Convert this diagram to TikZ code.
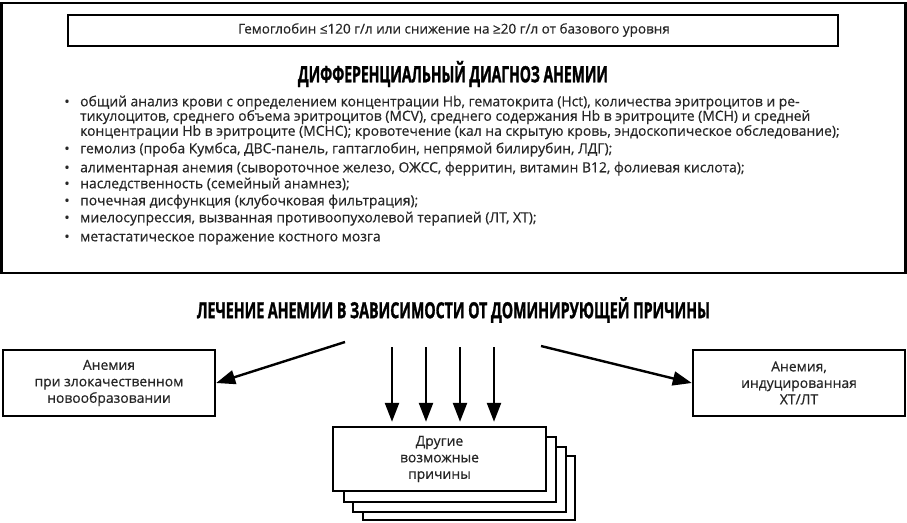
\documentclass[tikz,border=0pt]{standalone}
\usepackage{fontspec}
\setmainfont{Open Sans}[FakeBold=0.5]
\newfontfamily\titlefont{Open Sans}[FakeStretch=0.62, BoldFeatures={FakeBold=1.2}]
\newfontfamily\titlefontb{Open Sans}[FakeStretch=0.64, BoldFeatures={FakeBold=1.2}]
\usetikzlibrary{arrows.meta}
\tikzset{
  frame/.style={draw=black, line width=2.6pt},
  box/.style={draw=black, line width=2.4pt, fill=white},
  body/.style={anchor=west, inner sep=0pt, text=black!85, font=\fontsize{13.9}{14.5}\selectfont, text height=9.5pt, text depth=3pt},
  bullet/.style={anchor=center, inner sep=0pt, text=black!85, font=\fontsize{14}{14}\selectfont},
  boxtext/.style={align=center, inner sep=0pt, text=black!85, font=\fontsize{13.9}{16.5}\selectfont},
  arr/.style={line width=2.4pt, -{Triangle[length=19pt,width=14pt]}},
}
\begin{document}
\begin{tikzpicture}[x=1pt,y=-1pt]
\useasboundingbox (0,0) rectangle (907,522);
% outer frame
\draw[frame] (1.5,3) rectangle (905.5,273);
% top box
\draw[frame] (68,15) rectangle (838,46);
\node[inner sep=0pt, text=black!85, font=\fontsize{13.5}{14}\selectfont] (hb) at (454,30) {Гемоглобин ≤120 г/л или снижение на ≥20 г/л от базового уровня};
% title 1
\node[inner sep=0pt] (t1) at (453,74) {\resizebox{310pt}{!}{\titlefont\bfseries ДИФФЕРЕНЦИАЛЬНЫЙ ДИАГНОЗ АНЕМИИ}};
% bullets
\foreach \y/\n in {103/b1,150/b2,169/b3,185/b4,202/b5,219/b6,238/b7}
  \node[bullet] (\n) at (67,\y) {•};
\node[body] (l1) at (80,103) {общий анализ крови с определением концентрации Hb, гематокрита (Hct), количества эритроцитов и ре-};
\node[body] (l2) at (80,117.5) {тикулоцитов, среднего объема эритроцитов (MCV), среднего содержания Hb в эритроците (MCH) и средней};
\node[body] (l3) at (80,132.5) {концентрации Hb в эритроците (MCHC); кровотечение (кал на скрытую кровь, эндоскопическое обследование);};
\node[body] (l4) at (80,150) {гемолиз (проба Кумбса, ДВС-панель, гаптаглобин, непрямой билирубин, ЛДГ);};
\node[body] (l5) at (80,169) {алиментарная анемия (сывороточное железо, ОЖСС, ферритин, витамин B12, фолиевая кислота);};
\node[body] (l6) at (80,185) {наследственность (семейный анамнез);};
\node[body] (l7) at (80,202) {почечная дисфункция (клубочковая фильтрация);};
\node[body] (l8) at (80,219) {миелосупрессия, вызванная противоопухолевой терапией (ЛТ, ХТ);};
\node[body] (l9) at (80,238) {метастатическое поражение костного мозга};
% title 2
\node[inner sep=0pt] (t2) at (453.5,310) {\resizebox{513pt}{!}{\titlefontb\bfseries ЛЕЧЕНИЕ АНЕМИИ В ЗАВИСИМОСТИ ОТ ДОМИНИРУЮЩЕЙ ПРИЧИНЫ}};
% side boxes
\node[box, minimum width=212pt, minimum height=66pt] (left) at (109,383) {};
\node[boxtext] at (left.center) {Анемия\\при злокачественном\\новообразовании};
\node[box, minimum width=212pt, minimum height=66pt] (right) at (799,383) {};
\node[boxtext] at (right.center) {Анемия,\\индуцированная\\ХТ/ЛТ};
% stacked boxes
\draw[box] (363,456) rectangle (575,520);
\draw[box] (353,447) rectangle (566,512);
\draw[box] (344,437) rectangle (556,502);
\node[box, minimum width=213pt, minimum height=64pt] (other) at (439.5,459) {};
\node[boxtext] at (other.center) {Другие\\возможные\\причины};
% arrows
\coordinate (sL) at (345,342);
\coordinate (sR) at (541,346);
\draw[arr] (sL) -- (left.east);
\draw[arr] (sR) -- (right.west);
\foreach \x/\n in {392/v1,426/v2,460/v3,494/v4}{
  \coordinate (\n) at (\x,347);
  \draw[arr, shorten >=4pt] (\n) -- (\n |- other.north);
}
\end{tikzpicture}
\end{document}
